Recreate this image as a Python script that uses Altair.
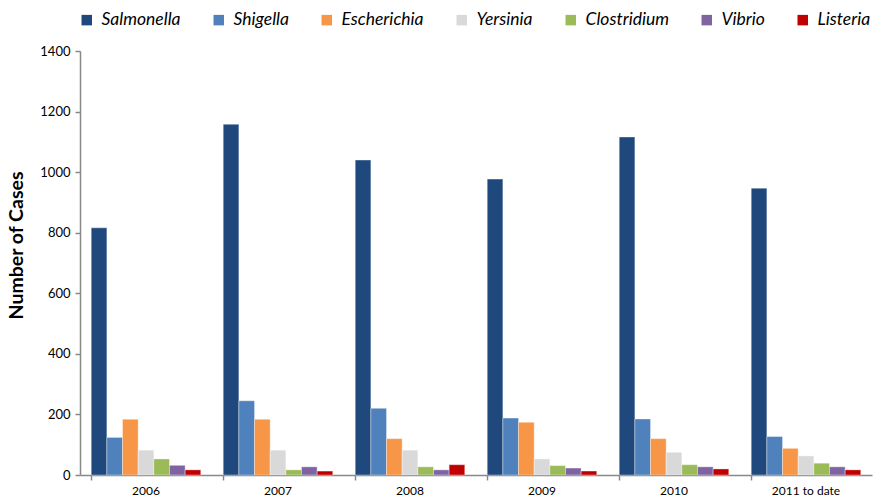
import altair as alt
import pandas as pd

# Reported cases per organism, by year
years = ["2006", "2007", "2008", "2009", "2010", "2011 to date"]
organisms = ["Salmonella", "Shigella", "Escherichia", "Yersinia",
             "Clostridium", "Vibrio", "Listeria"]
colors = ["#1F497D", "#4F81BD", "#F79646", "#D9D9D9",
          "#9BBB59", "#8064A2", "#C00000"]

salmonella = [816, 1158, 1040, 977, 1116, 947]
shigella = [124, 245, 220, 188, 185, 127]
escherichia = [184, 184, 120, 174, 120, 88]
yersinia = [82, 82, 82, 53, 75, 63]
clostridium = [53, 17, 27, 31, 34, 39]
vibrio = [32, 27, 17, 23, 27, 27]
listeria = [17, 13, 34, 13, 20, 17]

series = [salmonella, shigella, escherichia, yersinia, clostridium, vibrio, listeria]
rows = []
for org, vals in zip(organisms, series):
    for yr, v in zip(years, vals):
        rows.append({"Year": yr, "Organism": org, "Cases": v})
df = pd.DataFrame(rows)

FONT = "Lato"

chart = alt.Chart(df).mark_bar(stroke="white", strokeWidth=0.6, strokeOpacity=0.6).encode(
    x=alt.X("Year:N", sort=years,
            scale=alt.Scale(paddingInner=0.17, paddingOuter=0.085),
            axis=alt.Axis(title=None, labelAngle=0, labelFontSize=12, labelFont=FONT,
                          labelColor="#000", domainColor="#888", tickColor="#888",
                          tickSize=5, bandPosition=0, labelPadding=5, tickWidth=1.5,
                          domainWidth=1.5)),
    xOffset=alt.XOffset("Organism:N", sort=organisms,
                        scale=alt.Scale(paddingInner=0, paddingOuter=0)),
    y=alt.Y("Cases:Q", scale=alt.Scale(domain=[0, 1400], nice=False),
            axis=alt.Axis(title="Number of Cases", values=list(range(0, 1401, 200)),
                          format="d", grid=False, labelFontSize=13, labelFont=FONT,
                          labelColor="#000",
                          titleFont=FONT, titleFontSize=19.5, titleFontWeight="bold",
                          titleColor="#000", titleX=-54, titleY=194,
                          titleAlign="center", titleAngle=-90,
                          domainColor="#888", tickColor="#888", tickSize=5,
                          labelPadding=5, domainWidth=1.5, tickWidth=1.5)),
    color=alt.Color("Organism:N", sort=organisms,
                    scale=alt.Scale(domain=organisms, range=colors),
                    legend=alt.Legend(title=None, orient="none", direction="horizontal",
                                      legendX=-2, legendY=-40,
                                      symbolType="square", symbolSize=110,
                                      symbolStrokeWidth=0,
                                      labelFontSize=17.5, labelFont=FONT,
                                      labelFontStyle="italic", labelColor="#000",
                                      columnPadding=29, labelOffset=6)),
).properties(
    width=792, height=424,
    autosize=alt.AutoSizeParams(type="none"),
    padding={"left": 80, "top": 51, "right": 1, "bottom": 29},
).configure_view(stroke=None)

chart.save("out.html", embed_options={"renderer": "svg", "actions": False})
